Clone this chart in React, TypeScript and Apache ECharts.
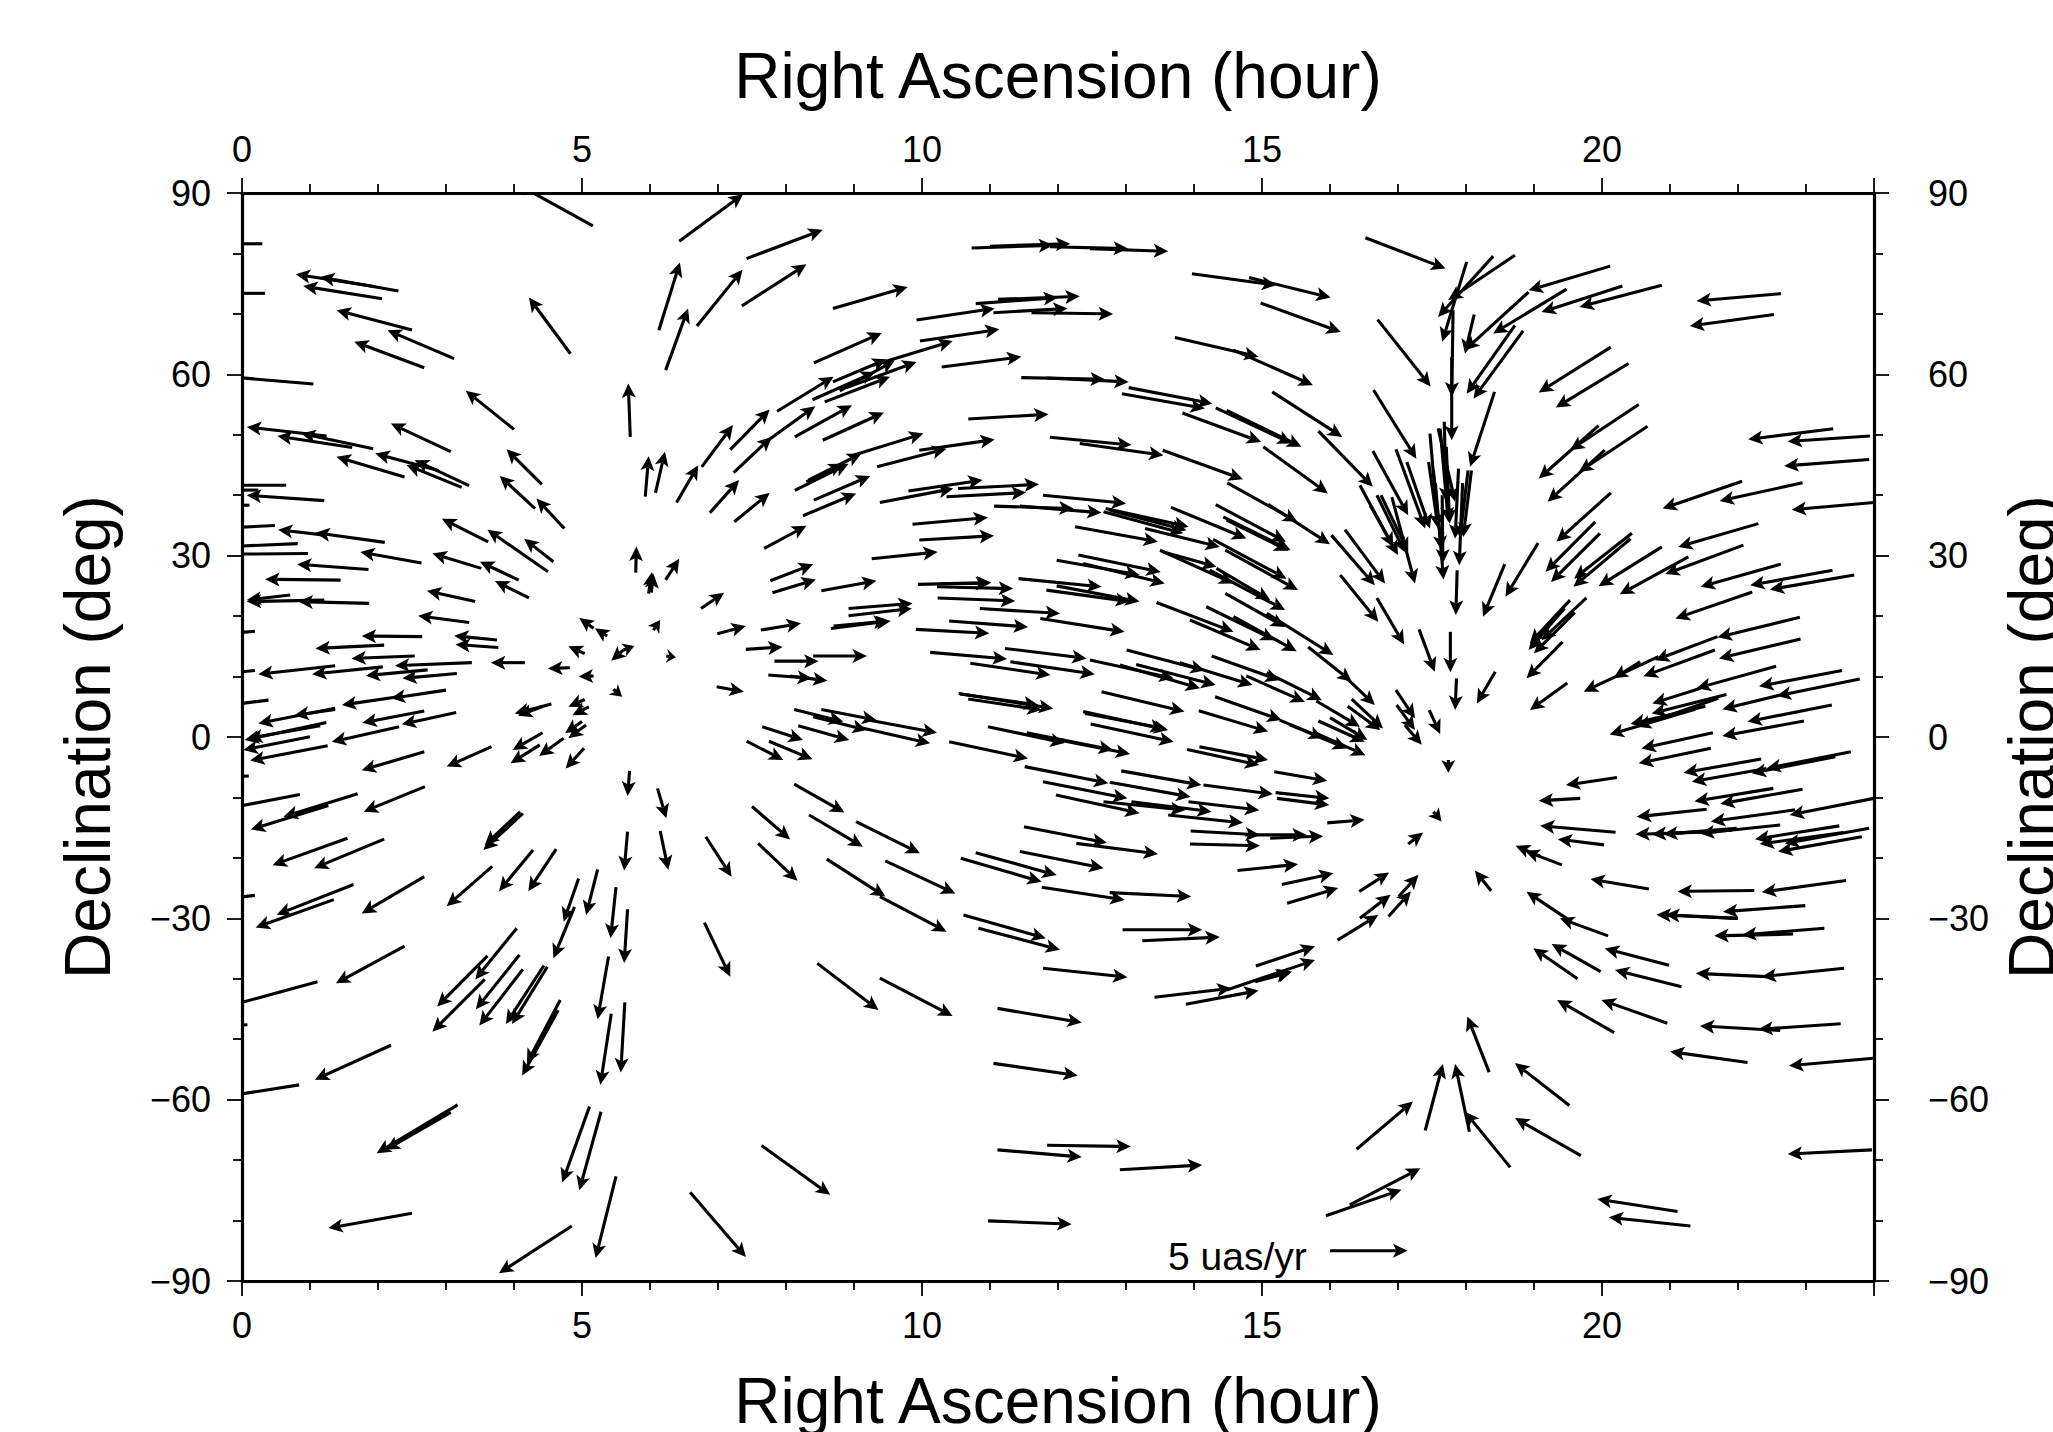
import React, { useEffect, useRef } from "react";
import * as echarts from "echarts";

type Arrow = number[]; // [RA start (h), Dec start (deg), RA end (h), Dec end (deg)]

const northWest: Arrow[] = [
  [5.16,84.55,4.01,91.7],[0.30,81.6,-0.2,81.6],[0.34,73.4,-0.2,73.4],[1.96,74.5,0.79,76.55],[2.30,73.8,1.15,76.1],
  [2.06,72.5,0.90,74.6],[2.50,67.35,1.39,70.6],[3.12,62.6,2.14,67.3],[2.68,61.1,1.65,65.4],[4.83,63.4,4.22,72.7],
  [1.05,58.4,-0.2,59.6],[5.71,49.65,5.68,58.5],[4.0,50.9,3.29,57.3],[3.07,47.2,2.19,51.85],[1.245,49.8,0.07,51.3],
  [1.93,47.7,0.87,50.2],[1.62,47.9,0.52,49.8],[4.41,41.8,3.89,47.6],[2.39,43.0,1.39,46.35],[2.89,44.1,1.96,46.9],
  [3.23,41.3,2.42,45.0],[3.34,41.6,2.54,45.8],[0.65,41.65,-0.2,41.65],[0.24,40.85,-0.2,40.85],[0.11,38.35,-0.2,38.35],
  [1.21,39.1,0.07,40.0],[4.31,37.8,3.79,43.2],[4.74,34.5,4.33,39.45],[3.62,32.3,2.94,36.1],[4.5,27.33,3.61,34.3],
  [4.58,29.0,4.15,32.8],[5.79,27.2,5.80,31.5],[2.10,32.2,1.08,33.8],[1.22,33.4,0.53,34.3],[0.485,35.0,-0.2,34.6],
  [0.82,32.0,-0.2,31.5],
];

const midWest: Arrow[] = [
  [0.97,30.35,-0.2,30.25],[1.86,27.7,0.81,28.6],[2.64,28.8,1.74,30.6],[3.52,27.9,2.80,30.35],[4.07,25.95,3.5,29.0],
  [4.22,23.0,3.72,25.8],[1.45,25.95,0.34,26.1],[3.43,22.4,2.72,24.2],[3.34,18.95,2.59,20.05],[0.71,23.5,0.07,22.65],
  [1.87,22.1,0.83,22.4],[1.21,22.65,0.07,22.4],[0.19,17.5,-0.2,17.1],[2.65,16.6,1.76,16.7],[2.09,15.2,1.08,14.65],
  [3.75,16.05,3.12,16.75],[3.77,14.8,3.14,15.3],[2.54,13.4,1.61,13.0],[3.38,12.3,2.25,11.8],[4.16,12.3,3.66,12.3],
  [4.82,11.45,4.5,11.35],[5.17,10.1,4.95,10.0],[1.37,11.8,0.24,10.4],[2.07,11.6,1.03,10.4],[2.73,11.1,1.82,10.15],
  [3.16,10.5,2.36,9.7],[0.19,11.0,-0.2,10.6],[0.39,6.1,-0.2,5.3],[3.0,7.75,2.19,6.4],[2.3,6.65,1.47,5.3],
  [1.37,4.75,0.24,2.25],[1.37,4.55,0.77,3.6],[2.68,4.3,1.77,2.35],[3.15,4.05,2.35,2.1],[2.31,1.7,1.32,-0.8],
  [1.24,2.4,0.04,-0.5],[1.15,1.85,0.09,-0.25],[1.0,0.05,0.02,-2.15],[1.26,-1.45,0.12,-3.9],[2.68,-2.45,1.76,-5.5],
  [3.67,-1.6,3.01,-4.9],[4.55,5.45,4.01,3.9],[4.41,5.0,4.06,3.5],[5.04,6.2,4.8,5.0],[5.1,5.0,4.86,3.6],
  [5.0,2.55,4.75,0.6],[5.06,2.0,4.8,-0.2],[4.42,0.7,3.98,-2.15],[4.38,-1.3,3.95,-4.35],[4.73,-0.2,4.37,-3.15],
  [5.03,-1.85,4.76,-5.2],[5.37,16.7,5.19,18.0],[5.17,18.0,4.96,19.7],[5.04,13.8,4.8,15.0],[5.61,14.4,5.43,12.6],
  [5.61,14.4,5.77,15.05],[5.46,7.9,5.59,6.65],[0.1,-6.45,-0.2,-6.6],[0.85,-9.5,-0.2,-11.8],[1.7,-9.4,0.61,-13.2],
  [1.27,-11.35,0.13,-15.3],[2.69,-8.2,1.79,-12.35],[1.55,-16.75,0.45,-21.2],[2.09,-16.9,1.06,-21.7],[1.64,-24.4,0.51,-29.4],
  [1.35,-26.9,0.2,-31.5],[0.19,-26.2,-0.2,-26.7],[2.68,-23.1,1.76,-29.2],[4.13,-12.65,3.55,-18.7],[4.09,-12.4,3.57,-17.85],
  [3.68,-21.4,3.01,-28.0],[4.28,-18.7,3.78,-25.5],[4.62,-18.55,4.21,-25.5],[5.7,-5.6,5.67,-9.75],[5.67,-15.65,5.62,-22.1],
  [4.95,-23.4,4.73,-30.55],[5.23,-21.9,5.06,-29.45],[5.5,-24.85,5.42,-33.3],[5.67,-28.5,5.62,-37.4],[4.89,-28.1,4.58,-36.6],
];

const southWest: Arrow[] = [
  [2.39,-34.6,1.38,-40.75],[1.11,-40.5,-0.2,-44.5],[0.08,-47.6,-0.2,-47.8],[2.19,-51.0,1.07,-56.7],[0.84,-57.55,-0.2,-59.4],
  [4.04,-31.65,3.43,-40.1],[3.61,-36.2,2.87,-44.6],[3.57,-40.1,2.8,-48.75],[4.08,-36.05,3.44,-45.05],[4.13,-38.45,3.49,-47.75],
  [4.44,-37.8,3.88,-47.5],[4.49,-38.0,3.97,-47.5],[4.68,-43.5,4.19,-54.0],[4.65,-45.2,4.12,-56.0],[5.39,-36.3,5.23,-46.7],
  [5.63,-43.9,5.57,-55.5],[5.43,-45.8,5.27,-57.55],[5.11,-61.15,4.71,-73.7],[5.28,-62.0,4.96,-75.0],[5.5,-72.7,5.2,-86.2],
  [4.85,-80.9,3.78,-88.7],[3.17,-60.85,1.98,-68.85],[3.07,-62.1,2.11,-68.3],[2.5,-78.8,1.27,-81.25],
];

const northCentre: Arrow[] = [
  [6.43,82.0,7.37,89.8],[7.42,79.15,8.54,83.9],[6.13,67.3,6.44,78.5],[6.69,68.0,7.36,77.3],[7.35,71.3,8.3,78.2],
  [6.23,60.7,6.56,70.9],[8.69,70.9,9.79,74.45],[8.41,61.9,9.41,66.85],[9.97,65.5,11.14,67.45],[9.92,69.0,11.07,70.9],
  [10.29,61.2,11.46,62.9],[10.79,71.7,12.0,72.7],[11.12,72.4,12.32,72.9],[11.05,70.2,12.14,70.9],[11.61,70.2,12.81,70.0],
  [10.73,80.9,11.93,81.35],[11.0,81.2,12.18,81.6],[11.88,81.1,13.03,80.8],[12.47,80.8,13.62,80.35],[7.87,53.9,8.7,59.6],
  [8.69,58.75,9.48,62.5],[9.28,61.5,10.45,65.5],[8.39,55.8,9.31,60.4],[8.57,55.45,9.53,59.6],[8.89,57.8,9.92,62.05],
  [8.79,57.25,9.6,62.3],[8.13,49.65,8.97,54.9],[8.54,49.1,9.44,53.7],[7.23,43.75,7.79,49.65],[7.67,48.55,8.43,54.7],
  [7.18,47.55,7.76,54.2],[6.76,44.7,7.22,51.6],[6.39,38.8,6.71,44.95],[6.08,40.4,6.22,47.2],[5.93,39.75,5.98,46.45],
  [6.88,37.1,7.31,42.5],[7.24,35.6,7.76,40.4],[7.68,31.2,8.3,34.95],[8.25,36.6,9.03,40.3],[8.41,39.2,9.24,43.2],
  [8.13,40.8,8.92,45.2],[8.3,42.2,8.84,45.2],[8.99,46.6,10.02,50.2],[8.33,42.5,9.11,46.9],[9.34,44.7,10.36,47.7],
  [9.96,47.45,11.07,49.2],[10.68,52.6,11.86,53.4],[11.88,49.6,13.08,48.3],[12.32,48.55,13.55,46.6],[9.8,40.7,10.89,42.5],
  [9.38,38.8,10.46,41.1],[10.53,41.1,11.72,41.8],[10.36,39.75,11.53,40.45],[11.78,40.0,13.0,38.65],[11.06,38.2,12.23,37.8],
  [9.86,35.2,10.97,36.3],[9.96,32.6,11.06,33.3],[9.26,29.5,10.23,30.6],
];

const midCentre: Arrow[] = [
  [5.98,23.75,6.03,27.3],[6.02,23.9,6.05,27.05],[6.23,26.0,6.43,29.5],[6.75,21.25,7.09,23.85],[7.77,25.85,8.4,28.6],
  [7.8,23.85,8.44,26.05],[8.52,24.2,9.33,25.85],[9.94,25.25,11.02,25.55],[10.22,24.85,11.34,24.55],[10.29,25.4,11.0,25.4],
  [10.23,23.0,11.37,22.5],[8.92,21.25,9.86,22.1],[8.92,20.05,9.85,21.25],[8.66,17.95,9.54,19.2],[8.7,18.35,9.5,19.2],
  [10.85,21.25,12.03,20.45],[10.4,19.2,11.56,18.2],[9.91,17.8,10.99,17.15],[6.99,17.1,7.41,18.35],[7.63,17.7,8.22,18.8],
  [6.05,17.7,6.15,19.35],[6.24,13.4,6.38,13.2],[7.41,14.5,7.95,14.9],[7.83,12.55,8.48,12.55],[8.4,13.4,9.19,13.4],
  [7.74,10.25,8.38,9.7],[8.06,10.1,8.61,9.3],[6.98,8.3,7.38,7.5],[10.12,14.0,11.25,12.9],[10.71,12.2,11.89,10.25],
  [11.22,14.65,12.42,13.0],[11.3,12.45,12.54,10.4],[10.54,7.2,11.93,4.7],[10.68,6.3,11.76,4.45],[10.56,7.1,11.71,5.3],
  [10.97,1.7,12.1,-1.0],[11.54,0.7,12.81,-2.15],[10.4,-0.8,11.56,-3.55],[8.12,4.55,8.84,2.55],[8.52,4.55,9.33,2.8],
  [8.4,3.35,9.19,1.15],[9.21,2.8,10.22,0.7],[9.04,1.7,10.12,-1.05],[8.18,1.85,8.93,-0.5],[7.65,1.7,8.25,-0.5],
  [7.75,-0.7,8.39,-3.7],[7.42,-0.7,7.96,-3.8],[6.11,-8.5,6.24,-13.45],[6.15,-15.55,6.27,-22.0],[6.82,-16.5,7.2,-23.1],
  [7.5,-11.5,8.06,-16.95],[7.59,-17.6,8.17,-23.8],[8.12,-7.8,8.86,-12.5],[8.34,-12.9,9.13,-18.15],[9.03,-14.0,9.97,-19.25],
  [8.6,-20.2,9.46,-26.4],[9.46,-20.5,10.49,-25.9],[9.38,-26.4,10.36,-32.2],[10.57,-20.05,11.76,-23.95],[10.79,-19.15,11.98,-22.85],
  [10.61,-29.45,11.82,-33.3],[10.83,-31.65,12.03,-35.2],
];

const southCentre: Arrow[] = [
  [6.8,-30.7,7.18,-39.65],[8.46,-37.45,9.36,-45.15],[9.38,-39.9,10.45,-46.15],[7.64,-67.6,8.65,-75.75],[6.59,-75.3,7.41,-86.05],
  [11.78,-38.25,13.02,-39.75],[11.11,-44.9,12.35,-47.25],[11.05,-54.0,12.29,-56.0],[11.11,-68.3,12.35,-69.5],[11.84,-67.55,13.07,-67.75],
  [10.97,-80.05,12.2,-80.6],[12.95,-31.9,14.12,-31.9],[13.24,-33.7,14.38,-33.1],[13.42,-43.05,14.55,-41.55],[13.88,-44.2,14.95,-41.95],
  [14.48,-41.85,15.78,-36.9],[14.9,-40.5,15.44,-38.8],[14.92,-40.3,15.42,-39.0],[14.91,-37.9,15.78,-34.6],[12.91,-71.6,14.12,-70.8],
  [16.11,-33.6,16.71,-29.45],[16.39,-68.2,17.22,-60.3],[17.4,-65.1,17.66,-54.1],[18.05,-65.3,17.84,-54.1],[15.94,-79.2,17.05,-74.9],
  [16.29,-77.4,17.33,-71.35],
];

const northApex: Arrow[] = [
  [13.97,76.65,15.21,74.75],[14.81,76.0,16.01,72.7],[14.98,71.8,16.16,67.0],[16.52,82.6,17.7,77.5],[16.7,69.05,17.48,58.0],
  [13.72,66.1,14.95,62.9],[14.58,64.0,15.75,58.2],[15.15,57.1,16.18,49.65],[11.46,59.45,12.69,59.2],[11.83,59.4,13.04,58.75],
  [13.04,57.8,14.27,55.15],[12.94,56.8,14.16,54.35],[13.83,53.6,14.99,48.8],[14.32,54.45,15.44,48.55],[14.48,54.05,15.58,48.0],
  [15.02,48.0,15.97,40.3],[15.83,50.6,16.63,41.4],[16.64,57.4,17.27,46.05],[13.54,47.45,14.72,42.65],[14.49,42.05,15.52,35.6],
  [15.09,38.5,16.0,31.9],[12.25,34.8,13.47,32.3],[12.7,37.8,13.92,34.8],[12.67,37.25,13.84,33.7],[12.76,37.5,13.89,34.2],
  [11.44,38.2,12.64,37.1],[13.28,34.5,14.38,31.45],[13.66,38.0,14.77,32.85],[14.32,38.45,15.35,32.3],[14.43,36.4,15.42,30.9],
  [14.48,35.9,15.39,30.8],[14.28,32.7,15.36,26.2],[14.46,30.9,15.53,24.3],[16.02,33.4,16.66,25.1],[16.22,34.3,16.81,25.4],
  [16.63,47.3,17.15,36.7],[16.97,47.6,17.4,34.5],[17.13,45.5,17.47,34.5],[16.44,41.65,16.93,31.45],[16.69,40.0,17.1,30.6],
  [16.75,40.0,17.15,30.6],[16.59,38.35,17.0,30.1],[16.91,39.7,17.25,25.4],[17.47,50.2,17.59,34.5],[17.59,51.05,17.84,38.9],
  [17.68,52.15,17.71,38.9],[17.79,62.9,17.79,49.1],[17.62,51.0,17.74,35.6],[17.45,45.5,17.59,34.5],[17.52,44.1,17.64,30.9],
  [17.71,48.0,17.76,35.3],[17.89,44.4,17.84,32.8],[18.03,44.1,17.91,32.8],[18.08,44.1,17.96,33.1],[17.55,42.0,17.67,26.0],
  [17.65,40.0,17.66,28.7],[17.95,42.0,17.9,28.4],[17.87,27.6,17.85,20.2],[18.01,78.6,17.65,65.4],[18.72,79.7,17.74,72.3],
  [18.4,79.55,17.59,69.5],[17.81,70.6,17.79,56.3],
];

const midApex: Arrow[] = [
  [12.3,30.1,13.51,27.3],[11.98,29.25,13.2,26.8],[12.37,28.7,13.57,25.4],[11.42,26.2,12.64,24.85],[11.83,24.3,13.06,22.4],
  [11.98,25.0,13.2,22.4],[11.74,19.6,12.98,17.4],[13.45,22.25,14.58,17.4],[13.94,19.35,14.98,14.4],[14.46,23.75,15.34,18.2],
  [14.18,21.55,15.19,16.0],[14.58,19.9,15.51,14.2],[13.5,30.9,14.58,25.4],[13.55,30.6,14.33,28.15],[14.33,27.9,15.12,22.65],
  [14.23,27.6,15.34,21.0],[15.07,20.45,16.05,13.55],[15.68,14.9,16.32,9.15],[16.22,10.0,16.66,5.3],[16.15,26.8,16.71,19.05],
  [16.69,23.0,17.09,15.3],[17.31,17.8,17.54,10.8],[17.77,17.4,17.77,10.7],[17.86,9.7,17.84,4.45],[17.46,4.45,17.62,0.5],
  [16.97,7.75,17.25,3.1],[16.98,5.3,17.25,1.15],[17.1,2.0,17.35,-1.3],[17.74,-3.8,17.74,-5.9],[17.52,-12.35,17.64,-14.0],
  [17.15,-17.7,17.37,-15.8],[16.43,-25.55,16.87,-22.4],[17.01,-26.4,17.3,-22.8],[16.44,-30.0,16.89,-26.1],[16.86,-29.7,17.19,-25.55],
  [15.96,-14.2,16.51,-13.7],[13.95,-15.55,14.97,-16.2],[13.94,-17.7,14.97,-18.0],[14.75,-16.2,15.66,-16.2],[15.12,-16.75,15.9,-16.4],
  [14.64,-22.1,15.53,-21.05],[15.29,-24.4,16.05,-22.55],[15.37,-27.5,16.12,-25.0],[12.76,-25.75,13.96,-26.4],[11.76,-24.85,12.98,-26.95],
  [11.44,-18.95,12.67,-21.7],[11.5,-14.85,12.72,-17.5],[12.27,-17.6,13.47,-19.35],[11.97,-9.6,13.2,-12.6],[11.78,-7.4,13.02,-10.15],
  [11.51,-4.9,12.74,-7.65],[12.93,-5.6,14.11,-7.95],[12.76,-7.5,13.95,-9.9],[12.67,-10.7,13.87,-12.1],[13.08,-10.7,14.26,-12.35],
  [13.62,-12.9,14.72,-14.2],[13.92,-10.7,14.96,-12.1],[14.14,-7.95,15.16,-9.45],[15.18,-5.75,15.96,-7.25],[15.2,-9.2,15.99,-10.15],
  [15.22,-10.15,15.99,-11.25],[13.9,-2.05,14.96,-4.65],[14.08,-1.6,15.09,-3.8],[14.07,4.35,15.09,0.9],[12.64,7.5,13.86,4.2],
  [12.37,4.2,13.62,1.15],[12.4,3.9,13.57,1.4],[12.48,2.15,13.7,-0.8],[11.88,-0.2,13.06,-2.8],[12.47,12.75,13.7,9.7],
  [12.91,11.9,14.09,8.05],[13.15,12.0,14.32,8.6],[13.01,14.4,14.16,11.0],[13.79,12.3,14.86,8.6],[14.26,13.4,15.26,9.4],
  [14.77,10.1,15.63,5.8],[15.07,10.65,15.88,6.1],[14.31,6.65,15.29,2.8],[15.26,2.8,15.9,-0.2],[15.8,5.95,16.44,1.7],
  [16.0,3.2,16.55,-0.5],[15.83,2.65,16.51,-0.8],[15.8,0.6,16.52,-3.0],[15.41,2.0,16.25,-1.9],[16.32,6.25,16.78,1.4],
  [16.26,5.1,16.74,1.15],
];

const northEast: Arrow[] = [
  [20.12,77.9,18.92,73.9],[19.48,74.1,18.4,66.75],[18.92,73.6,17.985,64.0],[20.3,74.6,19.11,70.3],[20.88,74.75,19.67,71.15],
  [22.63,73.35,21.39,72.15],[22.53,69.9,21.29,68.0],[18.12,69.9,17.985,63.4],[18.72,68.1,18.01,56.8],[18.84,67.2,18.11,56.0],
  [20.13,64.5,19.07,57.0],[20.39,61.8,19.32,54.5],[18.42,57.1,18.06,44.7],[20.54,55.0,19.53,47.45],[19.95,51.5,19.07,42.75],
  [20.67,51.4,19.66,43.85],[20.04,47.45,19.2,38.9],[20.13,40.4,19.33,32.3],[23.4,51.0,22.15,49.25],[23.94,49.8,22.73,48.9],
  [23.93,45.9,22.68,44.85],[22.95,42.05,21.73,39.05],[22.06,42.3,20.89,37.8],[24.0,38.8,22.79,37.6],[22.3,35.3,21.12,31.45],
];

const midEast: Arrow[] = [
  [18.57,28.6,18.25,19.9],[19.06,32.1,18.58,23.2],[19.9,35.6,19.17,27.35],[19.97,33.7,19.25,25.65],[20.44,33.7,19.59,26.2],
  [20.42,32.8,19.58,24.85],[20.88,31.45,19.95,24.95],[21.27,29.8,20.26,23.6],[22.08,31.75,20.93,26.95],[22.63,28.6,21.45,24.85],
  [23.39,27.6,22.18,25.1],[23.71,26.8,22.47,24.4],[22.21,24.0,21.08,19.6],[22.91,19.8,21.7,16.5],[21.7,16.6,20.78,12.7],
  [22.92,16.2,21.72,13.0],[21.66,14.4,20.61,10.05],[20.83,13.3,19.73,7.5],[20.56,12.45,20.17,9.7],[22.56,11.7,21.39,8.05],
  [21.45,8.05,20.74,5.55],[23.53,11.0,22.31,8.4],[23.79,9.6,22.57,6.8],[22.62,6.95,21.77,4.6],[21.52,5.1,20.42,2.15],
  [21.83,7.05,20.73,3.9],[21.37,4.6,20.11,0.4],[21.71,6.4,20.51,1.7],[23.38,5.3,22.14,2.55],[22.97,2.65,21.77,0.15],
  [21.63,0.7,20.58,-1.9],[21.6,-1.85,20.54,-4.35],[22.34,-3.65,21.2,-5.9],[23.43,-3.25,22.2,-6.0],[23.66,-2.45,22.42,-5.2],
  [22.42,-5.2,21.32,-7.4],[22.52,-8.5,21.36,-10.65],[22.95,-8.65,21.74,-11.05],[24.0,-10.15,22.76,-12.9],[21.54,-11.95,20.51,-13.2],
  [22.84,-12.05,21.6,-14.0],[20.22,-6.7,19.47,-7.95],[19.68,-10.15,19.07,-10.55],[20.2,-15.75,19.09,-14.7],[20.03,-17.85,19.35,-16.9],
  [19.09,-19.7,18.73,-18.0],[19.41,-21.15,18.87,-18.85],[18.37,-25.45,18.13,-22.1],[20.69,-25.15,19.83,-23.5],[22.24,-25.4,21.11,-25.55],
  [23.59,-23.75,22.35,-25.65],[22.99,-27.9,21.78,-28.9],[22.0,-30.0,20.8,-29.4],[21.98,-30.0,20.93,-29.4],[22.62,-14.55,21.44,-15.95],
  [21.69,-15.65,20.49,-16.1],[21.91,-15.4,20.73,-16.1],[21.98,-15.1,20.9,-16.1],[23.49,-14.7,22.25,-16.9],[23.93,-15.1,22.69,-17.6],
  [23.82,-16.5,22.59,-18.95],[23.55,-15.8,22.32,-17.7],[19.49,8.95,18.94,4.45],[19.42,15.75,18.89,9.7],[18.43,10.8,18.16,5.55],
  [19.53,22.65,18.94,15.5],[19.77,23.0,19.11,16.0],[19.45,21.3,18.92,14.4],[19.6,20.6,19.0,13.85],
];

const southEast: Arrow[] = [
  [18.65,-71.2,17.985,-62.0],[18.34,-55.45,18.02,-46.25],[19.52,-60.95,18.72,-53.95],[19.69,-69.25,18.72,-63.05],[20.18,-48.9,19.34,-43.5],
  [20.96,-47.35,19.99,-43.5],[19.64,-40.0,18.99,-34.95],[19.98,-38.8,19.26,-34.25],[20.09,-32.9,19.38,-30.0],[19.55,-30.55,18.89,-25.6],
  [20.985,-37.75,20.04,-35.0],[21.17,-41.3,20.19,-38.55],[22.14,-53.85,21.0,-52.05],[23.51,-47.45,22.3,-48.35],[22.62,-48.55,21.44,-47.8],
  [23.56,-38.25,22.35,-39.65],[22.42,-39.65,21.38,-39.1],[23.27,-31.65,22.06,-32.75],[22.81,-32.6,21.65,-32.9],[23.99,-53.15,22.75,-54.4],
  [23.97,-68.3,22.73,-69.0],[21.11,-78.5,19.93,-76.45],[21.3,-80.9,20.1,-79.45],
];

const scaleArrow: Arrow[] = [[16.0,-85.0,17.14,-85.0]];
const xTicks = { min: 0, max: 24, major: 5, minorPerMajor: 5 };
const yTicks = { min: -90, max: 90, major: 30, minorPerMajor: 3 };
const xTitle = "Right Ascension (hour)";
const yTitle = "Declination (deg)";
const scaleLabel = "5 uas/yr";

const allArrows = [
  ...northWest, ...midWest, ...southWest, ...northCentre, ...midCentre, ...southCentre,
  ...northApex, ...midApex, ...northEast, ...midEast, ...southEast, ...scaleArrow,
];

const FONT = '"Liberation Sans", Arial, Helvetica, sans-serif';
const INK = "#000";

function renderArrow(_: any, api: any) {
  const a = api.coord([api.value(0), api.value(1)]);
  const b = api.coord([api.value(2), api.value(3)]);
  const dx = b[0] - a[0];
  const dy = b[1] - a[1];
  const len = Math.hypot(dx, dy) || 1;
  const ux = dx / len;
  const uy = dy / len;
  const headLen = Math.min(14.5, len);
  const halfW = 7;
  const notch = 3.4;
  const baseX = b[0] - ux * headLen;
  const baseY = b[1] - uy * headLen;
  const neckX = baseX + ux * notch;
  const neckY = baseY + uy * notch;
  return {
    type: "group",
    children: [
      {
        type: "line",
        shape: { x1: a[0], y1: a[1], x2: neckX, y2: neckY },
        style: { stroke: INK, lineWidth: 3.1 },
      },
      {
        type: "polygon",
        shape: {
          points: [
            [b[0], b[1]],
            [baseX - uy * halfW, baseY + ux * halfW],
            [neckX, neckY],
            [baseX + uy * halfW, baseY - ux * halfW],
          ],
        },
        style: { fill: INK },
      },
    ],
  };
}

const axisBase = {
  axisLine: { show: true, onZero: false, lineStyle: { color: INK, width: 3.2 } },
  axisTick: { show: true, inside: false, length: 15, lineStyle: { color: INK, width: 1.8 } },
  splitLine: { show: false },
  minorSplitLine: { show: false },
};

function xAxis(position: string, nameGap: number) {
  return {
    ...axisBase,
    type: "value",
    position,
    min: xTicks.min,
    max: xTicks.max,
    interval: xTicks.major,
    minorTick: { show: true, splitNumber: xTicks.minorPerMajor, length: 9, lineStyle: { color: INK, width: 1.8 } },
    axisLabel: { show: true, color: INK, fontFamily: FONT, fontSize: 36, margin: 26, showMaxLabel: false },
    name: xTitle,
    nameLocation: "middle",
    nameGap,
    nameTextStyle: { color: INK, fontFamily: FONT, fontSize: 64 },
  };
}

function yAxis(position: string, nameGap: number, labelMargin: number) {
  return {
    ...axisBase,
    type: "value",
    position,
    min: yTicks.min,
    max: yTicks.max,
    interval: yTicks.major,
    minorTick: { show: true, splitNumber: yTicks.minorPerMajor, length: 9, lineStyle: { color: INK, width: 1.8 } },
    axisLabel: {
      show: true,
      color: INK,
      fontFamily: FONT,
      fontSize: 36,
      margin: labelMargin,
      formatter: (v: number) => String(v).replace("-", "\u2212"),
    },
    name: yTitle,
    nameLocation: "middle",
    nameRotate: 90,
    nameGap,
    nameTextStyle: { color: INK, fontFamily: FONT, fontSize: 64 },
  };
}

export default function App() {
  const ref = useRef<HTMLDivElement>(null);
  useEffect(() => {
    const chart = echarts.init(ref.current!, undefined, { renderer: "svg" });
    chart.setOption({
      animation: false,
      backgroundColor: "#fff",
      grid: { left: 242, top: 193, width: 1632, height: 1088, containLabel: false, outerBoundsMode: "none" },
      xAxis: [xAxis("bottom", 88), xAxis("top", 85)],
      yAxis: [yAxis("left", 122, 31), yAxis("right", 126, 54)],
      graphic: [
        {
          type: "text",
          left: 1168,
          top: 1237,
          style: { text: scaleLabel, fill: INK, font: `39px ${FONT}` },
        },
      ],
      series: [
        {
          type: "custom",
          coordinateSystem: "cartesian2d",
          xAxisIndex: 0,
          yAxisIndex: 0,
          clip: true,
          silent: true,
          renderItem: renderArrow,
          encode: { x: [0, 2], y: [1, 3] },
          data: allArrows,
        },
      ],
    });
    return () => chart.dispose();
  }, []);
  return (
    <div
      ref={ref}
      style={{ position: "absolute", left: 0, top: 0, width: 2053, height: 1432, background: "#fff" }}
    />
  );
}
